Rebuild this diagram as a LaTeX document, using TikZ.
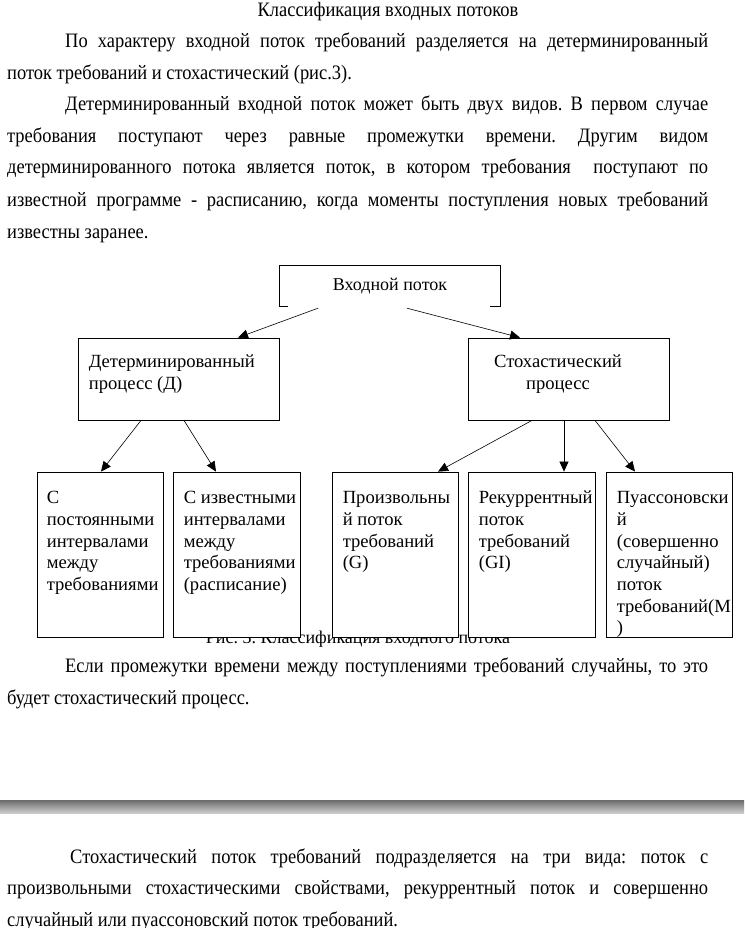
\documentclass[tikz,border=0pt]{standalone}
\usepackage{fontspec}
\setmainfont{Liberation Serif}
\newfontfamily\narrowfont{Liberation Serif}[FakeStretch=0.9]
\usetikzlibrary{arrows.meta,calc}
\newcommand{\jline}[2]{\makebox[#1][s]{#2}}
\newcommand{\lines}[1]{\parbox[t]{124pt}{\raggedright #1}}
\frenchspacing

\begin{document}
\begin{tikzpicture}[x=1pt,y=-1pt]

\tikzstyle{page} = [inner sep=0, anchor=base west,
    font=\narrowfont\fontsize{20.5}{21}\selectfont]
\tikzstyle{box} = [draw=black, line width=0.8, fill=white, inner sep=0,
    minimum width=126, minimum height=165]
\tikzstyle{wide} = [box, minimum width=201, minimum height=82]
\tikzstyle{boxtext} = [inner sep=0, anchor=base west,
    font=\fontsize{18.6}{21.7}\selectfont]
\tikzstyle{arr} = [line width=0.6, -{Triangle[length=10pt,width=9pt]}]

\useasboundingbox (0,0) rectangle (744,928);

% =========================
% text above the scheme
% =========================
\node[page, anchor=base] (title) at (388,17) {Классификация входных потоков};
\node[page] (p1a) at (65,48) {\jline{643pt}{По характеру входной поток требований разделяется на детерминированный}};
\node[page] (p1b) at (7,80) {поток требований и стохастический (рис.3).};
\node[page] (p2a) at (65,111) {\jline{643pt}{Детерминированный входной поток может быть двух видов. В первом случае}};
\node[page] (p2b) at (7,143) {\jline{701pt}{требования поступают через равные промежутки времени. Другим видом}};
\node[page] (p2c) at (7,174) {\jline{701pt}{детерминированного потока является поток, в котором требования \ поступают по}};
\node[page] (p2d) at (7,206) {\jline{701pt}{известной программе - расписанию, когда моменты поступления новых требований}};
\node[page] (p2e) at (7,238) {известны заранее.};

% =========================
% caption (under the boxes)
% =========================
\node[anchor=base, inner sep=0, font=\fontsize{18}{21.7}\selectfont] (caption) at (358,643)
    {Рис. 3. Классификация входного потока};

% =========================
% top node
% =========================
\node[minimum width=220, minimum height=40, inner sep=0, font=\fontsize{18}{21.7}\selectfont]
    (input) at (390,286) {Входной поток};
\draw[line width=0.8] ($(input.south west)+(8,0)$) -- (input.south west) -- (input.north west)
    -- (input.north east) -- (input.south east) -- +(-10,0);

% =========================
% second row
% =========================
\node[wide] (det) at (178.5,379) {};
\node[boxtext] (dettext) at ($(det.north west)+(11,30)$) {\lines{Детерминированный\\процесс (Д)}};

\node[wide] (stoch) at (568.5,379) {};
\node[boxtext, anchor=base] (stochtext) at ($(stoch.north)+(-10.5,30)$)
    {\parbox[t]{180pt}{\centering Стохастический\\процесс}};

% =========================
% third row
% =========================
\node[box] (c1) at (100,554.5) {};
\node[boxtext] (c1text) at ($(c1.north west)+(10,32)$) {\lines{С\\постоянными\\интервалами\\между\\требованиями}};

\node[box, minimum width=127] (c2) at (236.5,554.5) {};
\node[boxtext] (c2text) at ($(c2.north west)+(11,32)$) {\lines{С известными\\интервалами\\между\\требованиями\\(расписание)}};

\node[box] (c3) at (395,554.5) {};
\node[boxtext] (c3text) at ($(c3.north west)+(11,32)$) {\lines{Произвольны\\й поток\\требований\\(G)}};

\node[box, minimum width=127] (c4) at (531.5,554.5) {};
\node[boxtext] (c4text) at ($(c4.north west)+(11,32)$) {\lines{Рекуррентный\\поток\\требований\\(GI)}};

\node[box] (c5) at (669,554.5) {};
\node[boxtext] (c5text) at ($(c5.north west)+(11,32)$) {\lines{Пуассоновски\\й\\(совершенно\\случайный)\\поток\\требований(M\\)}};

% =========================
% arrows
% =========================
\draw[arr] ($(input.south)+(-72,2)$) -- ($(det.north)+(59.5,0)$);
\draw[arr] ($(input.south)+(17,2)$) -- ($(stoch.north)+(-48.5,0)$);
\draw[arr] ($(det.south)+(-37.5,0)$) -- ($(c1.north)+(1,0)$);
\draw[arr] ($(det.south)+(5.5,0)$) -- ($(c2.north)+(-20.5,0)$);
\draw[arr] ($(stoch.south)+(-36.5,0)$) -- ($(c3.north)+(43,0)$);
\draw[arr] ($(stoch.south)+(-4.5,0)$) -- ($(c4.north)+(32.5,0)$);
\draw[arr] ($(stoch.south)+(26.5,0)$) -- ($(c5.north)+(-34,0)$);

% =========================
% text below the scheme
% =========================
\node[page] (p3a) at (65,672) {\jline{643pt}{Если промежутки времени между поступлениями требований случайны, то это}};
\node[page] (p3b) at (7,704) {будет стохастический процесс.};

% page break
\shade[top color=black!58, bottom color=black!20] (0,800) rectangle (744,813);

\node[page] (p4a) at (70,863) {\jline{638pt}{Стохастический поток требований подразделяется на три вида: поток с}};
\node[page] (p4b) at (7,894) {\jline{701pt}{произвольными стохастическими свойствами, рекуррентный поток и совершенно}};
\node[page] (p4c) at (7,926) {случайный или пуассоновский поток требований.};

\end{tikzpicture}
\end{document}
